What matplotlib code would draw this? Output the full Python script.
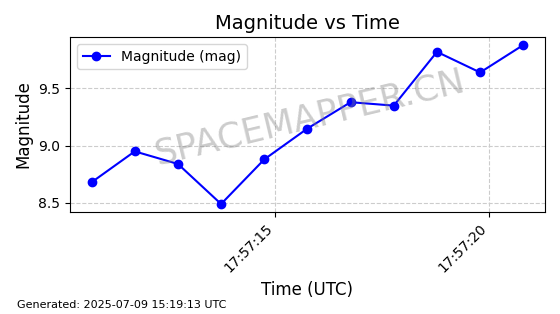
import datetime as dt
import matplotlib
matplotlib.use("Agg")
import matplotlib.pyplot as plt
import matplotlib.dates as mdates

start = dt.datetime(2025, 7, 9, 17, 57, 10, 700000)
offsets_s = [0.0, 1.01, 2.02, 3.03, 4.04, 5.05, 6.06, 7.07, 8.08, 9.09, 10.1]
magnitudes = [8.68, 8.95, 8.84, 8.49, 8.88, 9.15, 9.38, 9.35, 9.82, 9.64, 9.88]
times = [start + dt.timedelta(seconds=s) for s in offsets_s]

fig = plt.figure(figsize=(5.6, 3.14), dpi=100)
ax = fig.add_axes([0.125, 0.325, 0.848, 0.557])

ax.plot(times, magnitudes, color='blue', marker='o', markersize=6,
        linewidth=1.5, label='Magnitude (mag)')

ax.set_title('Magnitude vs Time', fontsize=14)
ax.set_xlabel('Time (UTC)', fontsize=12)
ax.set_ylabel('Magnitude', fontsize=12)
ax.grid(True, linestyle='--', color='#cccccc', linewidth=0.8)
ax.legend(loc='upper left', fontsize=10)

ax.xaxis.set_major_locator(mdates.SecondLocator(bysecond=range(0, 60, 5)))
ax.xaxis.set_major_formatter(mdates.DateFormatter('%H:%M:%S'))
plt.setp(ax.get_xticklabels(), rotation=45, ha='right', fontsize=10)
ax.tick_params(axis='y', labelsize=10)

# watermark
ax.text(0.505, 0.54, 'SPACEMAPPER.CN', transform=ax.transAxes, fontsize=25.5,
        color='gray', alpha=0.4, rotation=13.5, ha='center', va='center')

fig.text(0.03, 0.02, 'Generated: 2025-07-09 15:19:13 UTC', fontsize=8)

fig.savefig('out.png', dpi=100)
